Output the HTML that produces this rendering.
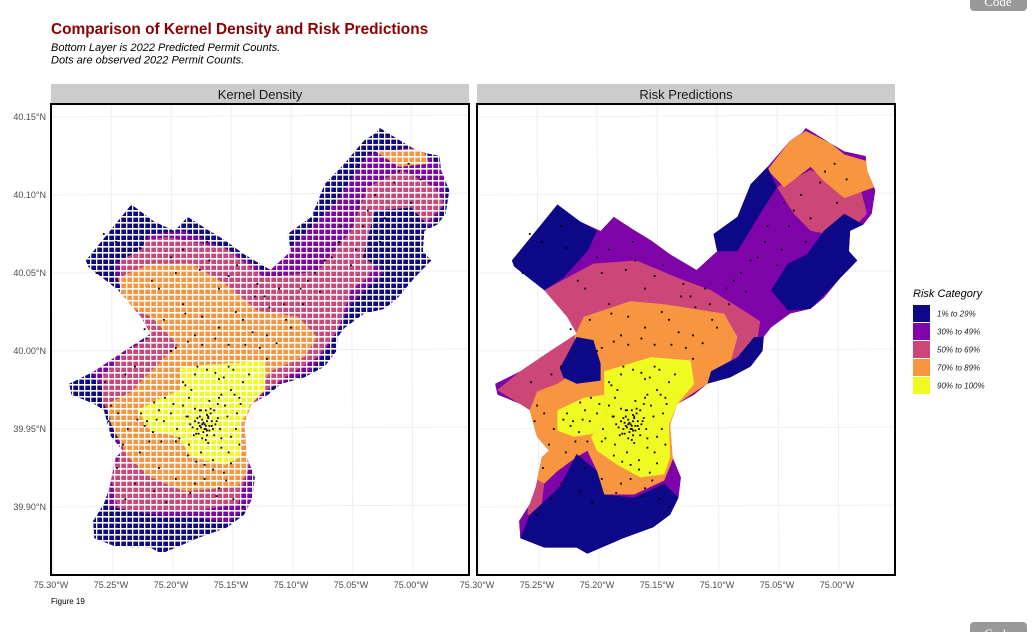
<!DOCTYPE html>
<html><head><meta charset="utf-8">
<style>
html,body{margin:0;padding:0;background:#fff;width:1032px;height:632px;overflow:hidden;font-family:"Liberation Sans",sans-serif;}
</style></head>
<body>
<svg id="chart" width="1032" height="632" viewBox="0 0 1032 632" xmlns="http://www.w3.org/2000/svg" font-family="Liberation Sans, sans-serif">
<rect x="0" y="0" width="1032" height="632" fill="#fff"/>
<text x="51" y="34" font-size="15.4" font-weight="bold" fill="#8b0000">Comparison of Kernel Density and Risk Predictions</text>
<text x="51" y="51" font-size="11" font-style="italic" fill="#000">Bottom Layer is 2022 Predicted Permit Counts.</text>
<text x="51" y="63.5" font-size="11" font-style="italic" fill="#000">Dots are observed 2022 Permit Counts.</text>
<g><rect x="970" y="-10" width="57" height="21" rx="4" fill="#999"/><text x="998" y="6" font-size="13" fill="#fff" text-anchor="middle" font-family="Liberation Serif, serif">Code</text></g>
<g><rect x="970" y="622" width="57" height="21" rx="4" fill="#999"/><text x="998" y="638" font-size="13" fill="#fff" text-anchor="middle" font-family="Liberation Serif, serif">Code</text></g>
<text x="51" y="604" font-size="8" fill="#000">Figure 19</text>
<defs>
<pattern id="gridpat" x="0" y="0" width="6" height="6" patternUnits="userSpaceOnUse">
<rect x="0" y="0" width="6" height="1.6" fill="#fff"/><rect x="0" y="0" width="1.3" height="6" fill="#fff"/>
</pattern>
</defs>
<g id="plots"></g>
<g>
<text x="913" y="297" font-size="11" font-style="italic">Risk Category</text>
<g id="legend-items"></g>
</g>
</svg>
<script>
const NS="http://www.w3.org/2000/svg";
const lonTicks=[-75.30,-75.25,-75.20,-75.15,-75.10,-75.05,-75.00];
const lonTickLabels=["75.30°W","75.25°W","75.20°W","75.15°W","75.10°W","75.05°W","75.00°W"];
const latTicks=[40.15,40.10,40.05,40.00,39.95,39.90];
const latTickLabels=["40.15°N","40.10°N","40.05°N","40.00°N","39.95°N","39.90°N"];
const categories=["1% to 29%","30% to 49%","50% to 69%","70% to 89%","90% to 100%"];
const catColors=["#0d0887","#7e03a8","#cc4778","#f89540","#f0f921"];

const outline=[[-75.026,40.143],[-75.005,40.133],[-74.994,40.128],[-74.976,40.125],[-74.975,40.116],[-74.968,40.103],[-74.971,40.088],[-74.978,40.081],[-74.989,40.077],[-74.990,40.064],[-74.983,40.058],[-74.997,40.047],[-75.011,40.034],[-75.022,40.027],[-75.039,40.024],[-75.055,40.015],[-75.061,40.009],[-75.062,40.000],[-75.072,39.990],[-75.089,39.983],[-75.108,39.979],[-75.119,39.972],[-75.133,39.966],[-75.139,39.953],[-75.137,39.932],[-75.130,39.919],[-75.132,39.906],[-75.139,39.895],[-75.153,39.887],[-75.178,39.880],[-75.208,39.870],[-75.217,39.874],[-75.244,39.874],[-75.264,39.880],[-75.265,39.891],[-75.256,39.902],[-75.251,39.913],[-75.246,39.932],[-75.240,39.936],[-75.250,39.945],[-75.256,39.962],[-75.264,39.966],[-75.283,39.972],[-75.285,39.979],[-75.264,39.987],[-75.239,40.000],[-75.217,40.011],[-75.225,40.022],[-75.244,40.039],[-75.269,40.054],[-75.271,40.058],[-75.233,40.094],[-75.214,40.083],[-75.197,40.077],[-75.186,40.086],[-75.172,40.079],[-75.155,40.071],[-75.139,40.062],[-75.117,40.052],[-75.100,40.064],[-75.103,40.075],[-75.083,40.086],[-75.072,40.107],[-75.058,40.118],[-75.039,40.135],[-75.029,40.140]];

const riskPink=[[-75.244,40.039],[-75.225,40.047],[-75.203,40.056],[-75.167,40.058],[-75.133,40.047],[-75.105,40.039],[-75.078,40.026],[-75.064,40.019],[-75.067,40.004],[-75.089,39.987],[-75.119,39.977],[-75.133,39.966],[-75.189,39.953],[-75.217,39.945],[-75.236,39.932],[-75.244,39.915],[-75.247,39.895],[-75.258,39.895],[-75.256,39.913],[-75.247,39.932],[-75.256,39.962],[-75.283,39.975],[-75.264,39.987],[-75.239,40.000],[-75.217,40.011],[-75.225,40.022]];
const riskPinkNE=[[-75.050,40.105],[-75.022,40.116],[-74.980,40.103],[-74.975,40.088],[-74.994,40.073],[-75.022,40.077],[-75.036,40.088]];
const riskOrange=[[-75.211,40.022],[-75.172,40.032],[-75.144,40.030],[-75.094,40.024],[-75.083,40.009],[-75.089,39.992],[-75.108,39.979],[-75.122,39.972],[-75.133,39.966],[-75.139,39.953],[-75.136,39.932],[-75.144,39.917],[-75.169,39.908],[-75.194,39.908],[-75.200,39.923],[-75.208,39.936],[-75.217,39.932],[-75.233,39.923],[-75.244,39.915],[-75.253,39.919],[-75.251,39.945],[-75.256,39.962],[-75.250,39.974],[-75.233,39.979],[-75.217,39.987],[-75.208,39.996],[-75.219,40.009]];
const riskOrangeNE=[[-75.039,40.135],[-75.026,40.141],[-75.005,40.133],[-74.994,40.126],[-74.976,40.122],[-74.969,40.105],[-74.994,40.098],[-75.011,40.109],[-75.022,40.118],[-75.044,40.105],[-75.058,40.116]];
const riskNavyNW=[[-75.271,40.058],[-75.233,40.094],[-75.214,40.083],[-75.200,40.077],[-75.208,40.064],[-75.228,40.047],[-75.244,40.039],[-75.269,40.054]];
const riskNavyNE=[[-75.022,40.027],[-74.997,40.047],[-74.983,40.058],[-74.990,40.064],[-74.989,40.077],[-74.978,40.081],[-74.994,40.088],[-75.011,40.077],[-75.025,40.062],[-75.041,40.056],[-75.055,40.039],[-75.041,40.026]];
const riskNavyNEedge=[[-75.103,40.075],[-75.083,40.086],[-75.072,40.107],[-75.058,40.118],[-75.050,40.105],[-75.064,40.088],[-75.083,40.064],[-75.100,40.064]];
const riskNavySE=[[-75.062,40.000],[-75.072,39.990],[-75.089,39.983],[-75.108,39.979],[-75.105,39.987],[-75.083,39.996],[-75.069,40.009],[-75.061,40.009]];
const riskNavyLake=[[-75.231,39.989],[-75.217,40.009],[-75.203,40.007],[-75.197,39.992],[-75.197,39.981],[-75.217,39.979],[-75.228,39.983]];
const riskNavySouth=[[-75.217,39.934],[-75.200,39.923],[-75.194,39.908],[-75.169,39.906],[-75.144,39.915],[-75.132,39.906],[-75.139,39.895],[-75.153,39.887],[-75.178,39.880],[-75.208,39.870],[-75.244,39.874],[-75.264,39.880],[-75.256,39.895],[-75.231,39.913]];
const riskYellow=[[-75.194,39.987],[-75.155,39.996],[-75.122,39.994],[-75.119,39.979],[-75.133,39.966],[-75.140,39.953],[-75.139,39.932],[-75.144,39.921],[-75.164,39.919],[-75.183,39.927],[-75.200,39.936],[-75.205,39.945],[-75.192,39.957],[-75.194,39.972]];
const riskYellowW=[[-75.233,39.962],[-75.211,39.970],[-75.194,39.972],[-75.192,39.957],[-75.203,39.947],[-75.219,39.945],[-75.233,39.949]];
const riskZones=[[1,outline],[2,riskPink],[2,riskPinkNE],[3,riskOrange],[3,riskOrangeNE],[0,riskNavyNW],[0,riskNavyNE],[0,riskNavyNEedge],[0,riskNavySE],[0,riskNavyLake],[0,riskNavySouth],[4,riskYellow],[4,riskYellowW]];

const kdPurple=[[-75.250,40.073],[-75.189,40.077],[-75.144,40.062],[-75.122,40.051],[-75.097,40.069],[-75.064,40.094],[-75.036,40.126],[-74.994,40.131],[-74.972,40.116],[-74.972,40.094],[-74.994,40.069],[-75.022,40.051],[-75.050,40.030],[-75.064,40.009],[-75.083,39.987],[-75.122,39.975],[-75.133,39.945],[-75.133,39.902],[-75.153,39.889],[-75.217,39.885],[-75.250,39.889],[-75.256,39.923],[-75.244,39.945],[-75.258,39.977],[-75.267,39.987],[-75.244,40.000],[-75.217,40.009],[-75.244,40.043]];
const kdPink=[[-75.244,40.069],[-75.203,40.073],[-75.155,40.066],[-75.122,40.047],[-75.078,40.051],[-75.050,40.077],[-75.036,40.105],[-75.008,40.116],[-74.980,40.105],[-74.972,40.094],[-74.994,40.077],[-75.022,40.069],[-75.036,40.047],[-75.050,40.039],[-75.061,40.013],[-75.078,39.996],[-75.105,39.983],[-75.128,39.970],[-75.133,39.932],[-75.144,39.902],[-75.175,39.898],[-75.217,39.898],[-75.244,39.898],[-75.250,39.919],[-75.239,39.940],[-75.256,39.966],[-75.258,39.983],[-75.236,40.000],[-75.217,40.009],[-75.239,40.039]];
const kdNavyNE=[[-75.030,40.090],[-75.000,40.092],[-74.985,40.080],[-74.995,40.062],[-75.020,40.050],[-75.040,40.060]];
const kdNavyNW=[[-75.265,40.057],[-75.235,40.090],[-75.215,40.080],[-75.225,40.065],[-75.250,40.055]];
const kdNavyS=[[-75.250,39.900],[-75.215,39.895],[-75.180,39.893],[-75.150,39.890],[-75.150,39.880],[-75.210,39.872],[-75.262,39.880]];
const kdOrange=[[-75.244,40.047],[-75.217,40.056],[-75.183,40.056],[-75.155,40.043],[-75.128,40.026],[-75.094,40.022],[-75.078,40.009],[-75.089,39.996],[-75.117,39.987],[-75.128,39.975],[-75.136,39.953],[-75.136,39.923],[-75.144,39.913],[-75.189,39.910],[-75.217,39.919],[-75.236,39.932],[-75.250,39.953],[-75.253,39.966],[-75.233,39.974],[-75.217,39.987],[-75.194,40.004],[-75.217,40.022],[-75.239,40.030]];
const kdOrangeNE=[[-75.030,40.128],[-74.990,40.130],[-74.985,40.120],[-75.010,40.118]];
const kdYellow=[[-75.192,39.990],[-75.155,39.992],[-75.122,39.994],[-75.122,39.975],[-75.133,39.966],[-75.142,39.953],[-75.142,39.932],[-75.155,39.927],[-75.183,39.932],[-75.194,39.945],[-75.217,39.949],[-75.228,39.962],[-75.208,39.970],[-75.192,39.975]];
const kdZones=[[0,outline],[1,kdPurple],[2,kdPink],[0,kdNavyNE],[0,kdNavyNW],[0,kdNavyS],[3,kdOrange],[3,kdOrangeNE],[4,kdYellow]];

const permitLon=[-75.172,-75.170,-75.175,-75.168,-75.174,-75.171,-75.166,-75.177,-75.169,-75.173,-75.165,-75.178,-75.163,-75.176,-75.170,-75.180,-75.167,-75.161,-75.174,-75.182,-75.190,-75.180,-75.160,-75.150,-75.140,-75.155,-75.145,-75.150,-75.158,-75.165,-75.175,-75.185,-75.190,-75.185,-75.160,-75.148,-75.135,-75.195,-75.200,-75.210,-75.220,-75.215,-75.225,-75.205,-75.150,-75.200,-75.180,-75.160,-75.140,-75.120,-75.100,-75.130,-75.160,-75.190,-75.210,-75.230,-75.250,-75.240,-75.245,-75.230,-75.210,-75.180,-75.160,-75.250,-75.200,-75.170,-75.230,-75.110,-75.080,-75.060,-75.040,-75.030,-75.010,-75.050,-75.000,-75.090,-75.120,-75.255,-75.140,-75.171,-75.169,-75.176,-75.164,-75.179,-75.158,-75.186,-75.152,-75.143,-75.196,-75.212,
-75.173,-75.171,-75.169,-75.176,-75.168,-75.174,-75.172,-75.166,-75.178,-75.170,-75.162,-75.184,-75.177,-75.164,-75.171,-75.159,-75.181,-75.167,-75.175,-75.170,
-75.188,-75.183,-75.178,-75.170,-75.163,-75.156,-75.147,-75.142,-75.153,-75.161,-75.168,-75.180,-75.187,-75.193,-75.158,-75.146,-75.152,-75.165,-75.172,-75.179,-75.186,-75.143,-75.156,-75.198,-75.206,-75.214,-75.222,-75.228,-75.218,-75.208,
-75.196,-75.186,-75.174,-75.163,-75.152,-75.138,-75.126,-75.112,-75.104,-75.118,-75.132,-75.146,-75.174,-75.188,-75.206,-75.222,-75.238,-75.244,-75.236,-75.226,-75.214,-75.196,-75.172,-75.154,-75.148,-75.162,-75.184,-75.204,-75.238,-75.252,
-75.216,-75.196,-75.176,-75.152,-75.128,-75.106,-75.092,-75.076,-75.066,-75.046,-75.036,-75.022,-75.014,-75.002,-74.992,-75.026,-75.044,-75.058,-75.072,-75.086,-75.226,-75.246,-75.256,-75.262,-75.190,-75.168,-75.145,-75.122];
const permitLat=[39.953,39.955,39.951,39.952,39.956,39.950,39.955,39.954,39.958,39.948,39.950,39.950,39.953,39.958,39.946,39.955,39.960,39.957,39.944,39.951,39.980,39.985,39.982,39.975,39.980,39.965,39.960,39.945,39.938,39.930,39.935,39.940,39.965,39.970,39.970,39.988,39.985,39.950,39.960,39.962,39.955,39.948,39.960,39.970,39.928,40.000,40.010,40.015,40.020,40.010,40.015,40.035,40.040,40.030,40.040,39.990,39.965,39.940,39.925,39.915,39.925,39.915,39.912,39.895,40.060,40.070,40.080,40.040,40.050,40.070,40.080,40.100,40.115,40.055,40.095,40.030,39.995,39.980,39.900,39.962,39.941,39.962,39.946,39.947,39.972,39.958,39.990,39.970,39.942,39.956,
39.954,39.952,39.957,39.952,39.949,39.953,39.950,39.952,39.957,39.959,39.955,39.953,39.947,39.962,39.943,39.950,39.946,39.963,39.962,39.949,
39.978,39.975,39.990,39.988,39.986,39.983,39.972,39.966,39.958,39.966,39.968,39.963,39.958,39.944,39.944,39.950,39.935,39.924,39.927,39.929,39.933,39.940,39.922,39.966,39.955,39.967,39.952,39.956,39.942,39.942,
40.002,40.006,40.004,40.008,40.004,40.004,40.002,40.005,40.020,40.028,40.012,40.025,40.022,40.024,40.020,40.014,39.985,39.960,39.950,39.935,39.910,39.918,39.918,39.917,39.905,39.907,39.909,39.903,39.905,39.955,
40.045,40.050,40.052,40.048,40.043,40.030,40.040,40.038,40.060,40.065,40.090,40.085,40.108,40.120,40.110,40.070,40.095,40.080,40.058,40.045,40.066,40.070,40.075,40.050,40.065,40.058,40.055,40.035];

const panelTop=104, panelBottom=575, panelW=418;
const panels=[{left:51,title:"Kernel Density",zones:kdZones,grid:true,key:"kernel-density"},{left:477,title:"Risk Predictions",zones:riskZones,grid:false,key:"risk-predictions"}];
const root=document.getElementById('plots');
function mk(tag,attrs,parent){const e=document.createElementNS(NS,tag);for(const k in attrs)e.setAttribute(k,attrs[k]);(parent||root).appendChild(e);return e;}
const yScale=lat=>117+(40.15-lat)*1560;
panels.forEach((p,pi)=>{
  const xScale=lon=>p.left+(lon+75.30)*1200;
  const pts=poly=>poly.map(d=>xScale(d[0]).toFixed(1)+","+yScale(d[1]).toFixed(1)).join(" ");
  const g=mk('g',{});
  
  
  const strip=mk('rect',{x:p.left,y:84,width:panelW,height:20,fill:'#cccccc'},g);
  
  
  const st=mk('text',{x:p.left+panelW/2,y:99,'font-size':13,'text-anchor':'middle',fill:'#1a1a1a'},g);
  st.textContent=p.title;
  
  
  lonTicks.forEach((t,i)=>{
    const x=xScale(t);
    const l=mk('line',{x1:x,y1:panelTop,x2:x+2,y2:panelBottom,stroke:'#ebebeb','stroke-width':0.8},g);
    
    
    const tx=mk('text',{x:x,y:588,'font-size':9,'text-anchor':'middle',fill:'#4d4d4d'},g);
    tx.textContent=lonTickLabels[i];
    
    
  });
  latTicks.forEach((t,i)=>{
    const y=yScale(t);
    const l=mk('line',{x1:p.left,y1:y,x2:p.left+panelW,y2:y-2,stroke:'#ebebeb','stroke-width':0.8},g);
    
    
    if(pi===0){
      const ty=mk('text',{x:46,y:y+3,'font-size':9,'text-anchor':'end',fill:'#4d4d4d'},g);
      ty.textContent=latTickLabels[i];
      
      
    }
  });
  const cid='clip'+pi;
  const cp=mk('clipPath',{id:cid},g);
  mk('polygon',{points:pts(outline)},cp);
  const mg=mk('g',{'clip-path':'url(#'+cid+')'},g);
  
  
  p.zones.forEach(z=>{
    const pg=mk('polygon',{points:pts(z[1]),fill:catColors[z[0]]},mg);
    
    
  });
  if(p.grid){
    const gr=mk('rect',{x:p.left,y:panelTop,width:panelW,height:panelBottom-panelTop,fill:'url(#gridpat)'},mg);
    
    
  }
  permitLon.forEach((lon,i)=>{
    const c=mk('rect',{x:xScale(lon)-0.9,y:yScale(permitLat[i])-0.9,width:1.8,height:1.8,fill:'#000'},g);
    
    
  });
  const fr=mk('rect',{x:p.left,y:panelTop,width:panelW,height:panelBottom-panelTop,fill:'none',stroke:'#000','stroke-width':2},g);
  
  
});
const lg=document.getElementById('legend-items');
categories.forEach((c,i)=>{
  const y=305+i*18;
  const r=mk('rect',{x:913,y:y,width:17,height:17,fill:catColors[i]},lg);
  
  
  const t=mk('text',{x:937,y:y+11.5,'font-size':8,'font-style':'italic',fill:'#1a1a1a'},lg);
  t.textContent=c;
  
  
});
</script>
</body></html>
